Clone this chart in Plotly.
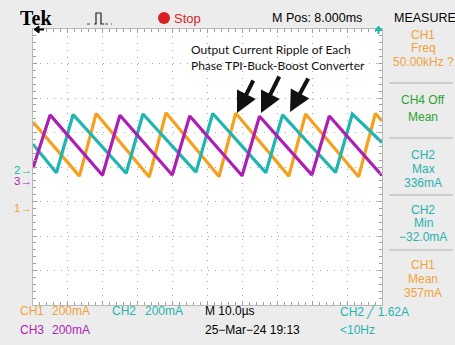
import plotly.graph_objects as go

# ---------------- data (read from the scope screen) ----------------
# time in microseconds (10 us/div, 10 divisions), current in mA (200 mA/div)
ch1_t = [0, 13.3, 18.1, 33.3, 38.1, 53.3, 58.1, 73.3, 78.1, 93.3, 98.1, 100]
ch1_ma = [498, 185, 548, 180, 552, 183, 550, 185, 545, 182, 548, 505]

ch2_t = [0, 6.7, 11.5, 26.7, 31.5, 46.7, 51.5, 66.7, 71.5, 86.7, 91.5, 100]
ch2_ma = [150, -15, 322, -18, 325, -12, 328, -15, 320, -14, 325, 160]

ch3_t = [0, 4.9, 19.9, 24.9, 39.9, 44.9, 59.9, 64.9, 79.9, 84.9, 99.9, 100]
ch3_ma = [70, 378, 28, 376, 30, 372, 25, 370, 30, 372, 28, 35]

ma_per_div = 200
# channel ground markers (screen divisions from centre)
ch1_pos, ch2_pos, ch3_pos = -1.19, -0.09, -0.38

measure_rows = [
    (["CH1", "Freq", "50.00kHz ?"], "#F2A23A"),
    (["CH4 Off", "Mean"], "#2AA52F"),
    (["CH2", "Max", "336mA"], "#25B3B0"),
    (["CH2", "Min", "\u221232.0mA"], "#25B3B0"),
    (["CH1", "Mean", "357mA"], "#F2A23A"),
]

# ---------------- layout helpers ----------------
W, H = 455, 345
L, R, T, B = 33, 73, 29, 40
PW, PH = W - L - R, H - T - B


def px(x):
    return (x - L) / PW


def py(y):
    return (H - B - y) / PH


ORANGE = "#F6A11E"
TEAL = "#1FB5B0"
MAGENTA = "#AD1EB5"
FONT = "Liberation Sans"

fig = go.Figure()
for t, ma, pos, col, name in [
    (ch1_t, ch1_ma, ch1_pos, ORANGE, "CH1"),
    (ch2_t, ch2_ma, ch2_pos, TEAL, "CH2"),
    (ch3_t, ch3_ma, ch3_pos, MAGENTA, "CH3"),
]:
    fig.add_trace(go.Scatter(x=t, y=[pos + v / ma_per_div for v in ma], mode="lines",
                             line=dict(color=col, width=3.2), name=name, showlegend=False,
                             hoverinfo="skip"))

axis_common = dict(showticklabels=False, showgrid=True, gridcolor="#a8a8a8", griddash="1px,6px",
                   gridwidth=1, zeroline=False, showline=True, linecolor="#b8b8b8", linewidth=1,
                   mirror="ticks", ticks="inside", ticklen=4, tickcolor="#a0a0a0",
                   fixedrange=True)
fig.update_xaxes(range=[0, 100], dtick=10, tick0=0,
                 minor=dict(dtick=2, ticks="inside", ticklen=3, tickcolor="#a0a0a0", showgrid=False),
                 **axis_common)
fig.update_yaxes(range=[-4, 4], dtick=1, tick0=0,
                 minor=dict(dtick=0.2, ticks="inside", ticklen=3, tickcolor="#a0a0a0", showgrid=False),
                 **axis_common)

ann = []


def text(x, y, s, color="black", size=12, xanchor="left", family=FONT, bold=False):
    if bold:
        s = "<b>" + s + "</b>"
    ann.append(dict(x=px(x), y=py(y), xref="paper", yref="paper", text=s, showarrow=False,
                    xanchor=xanchor, yanchor="middle", font=dict(color=color, size=size, family=family)))


# top bar
text(18, 18, "Tek", size=20, family="Liberation Serif", bold=True)
text(172, 18, "Stop", color="#D81E1E", size=13)
text(270, 18, "M Pos: 8.000ms", size=12.5)
text(425, 18, "MEASURE", size=12.5, xanchor="center")

# measure panel
row_y = [[35, 48, 62], [100, 117], [155, 169, 183], [210, 223, 237], [265, 279, 293]]
for (lines, col), ys in zip(measure_rows, row_y):
    for s, yy in zip(lines, ys):
        text(423, yy, s, color=col, size=12, xanchor="center")

# bottom bar
text(18, 311, "CH1", color="#F2A23A")
text(50, 311, "200mA", color="#F2A23A")
text(110, 311, "CH2", color=TEAL)
text(143, 311, "200mA", color=TEAL)
text(203, 311, "M 10.0\u00b5s")
text(338, 311, "CH2 \u2571 1.62A", color=TEAL)
text(18, 330, "CH3", color=MAGENTA)
text(50, 330, "200mA", color=MAGENTA)
text(203, 330, "25\u2212Mar\u221224 19:13")
text(338, 330, "<10Hz", color=TEAL)

# channel ground markers
text(34, 170, "2\u2192", color=TEAL, size=11.5, xanchor="right")
text(34, 181, "3\u2192", color=MAGENTA, size=11.5, xanchor="right")
text(34, 208, "1\u2192", color="#F2A23A", size=11.5, xanchor="right")

# callout
ann.append(dict(x=px(189), y=py(57.5), xref="paper", yref="paper",
                text="Output Current Ripple of Each<br>Phase TPI-Buck-Boost Converter",
                showarrow=False, xanchor="left", yanchor="middle", align="left",
                font=dict(family="Lato", size=12, color="#111111")))
for (hx, hy, tx, ty) in [(237, 113, 254, 79), (261, 113, 280, 75), (290, 112, 309, 77)]:
    ann.append(dict(x=px(hx), y=py(hy), xref="paper", yref="paper", ax=tx - hx, ay=ty - hy,
                    axref="pixel", ayref="pixel", showarrow=True, arrowhead=2, arrowsize=1.05,
                    arrowwidth=4, arrowcolor="#111111", text=""))

shapes = []
# measure separators
for yy in [83, 138, 195, 250]:
    shapes.append(dict(type="line", xref="paper", yref="paper", x0=px(389), x1=px(453),
                       y0=py(yy), y1=py(yy), line=dict(color="#c4c4c4", width=1.5)))
# stop dot
shapes.append(dict(type="circle", xref="paper", yref="paper", x0=px(158), x1=px(170),
                   y0=py(24), y1=py(12), fillcolor="#D81E1E", line=dict(width=0)))


def path(points, close=False):
    s = "M " + " L ".join(f"{px(a):.5f},{py(b):.5f}" for a, b in points)
    return s + (" Z" if close else "")


# trigger icon
shapes.append(dict(type="path", xref="paper", yref="paper",
                   path=path([(94, 24), (96, 24), (96, 13), (101, 13), (101, 24), (104, 24)]),
                   line=dict(color="#222222", width=1.2)))
shapes.append(dict(type="line", xref="paper", yref="paper", x0=px(87), x1=px(93), y0=py(24), y1=py(24),
                   line=dict(color="#444444", width=1, dash="dot")))
shapes.append(dict(type="line", xref="paper", yref="paper", x0=px(105), x1=px(112), y0=py(24), y1=py(24),
                   line=dict(color="#444444", width=1, dash="dot")))
# left arrow marker
shapes.append(dict(type="path", xref="paper", yref="paper", path=path([(34, 29.5), (39, 26), (39, 33)], True),
                   fillcolor="black", line=dict(color="black", width=1)))
shapes.append(dict(type="line", xref="paper", yref="paper", x0=px(38), x1=px(44), y0=py(29.5), y1=py(29.5),
                   line=dict(color="black", width=2)))
# trigger position marker
shapes.append(dict(type="path", xref="paper", yref="paper", path=path([(378.5, 26), (375, 30.5), (382, 30.5)], True),
                   fillcolor=TEAL, line=dict(color=TEAL, width=1)))
shapes.append(dict(type="line", xref="paper", yref="paper", x0=px(378.5), x1=px(378.5), y0=py(30), y1=py(34),
                   line=dict(color=TEAL, width=2)))

fig.update_layout(width=W, height=H, autosize=False,
                  margin=dict(l=L, r=R, t=T, b=B, pad=0),
                  paper_bgcolor="#ececec", plot_bgcolor="white",
                  annotations=ann, shapes=shapes, showlegend=False)

fig.write_html("out.html", config={"displayModeBar": False})
